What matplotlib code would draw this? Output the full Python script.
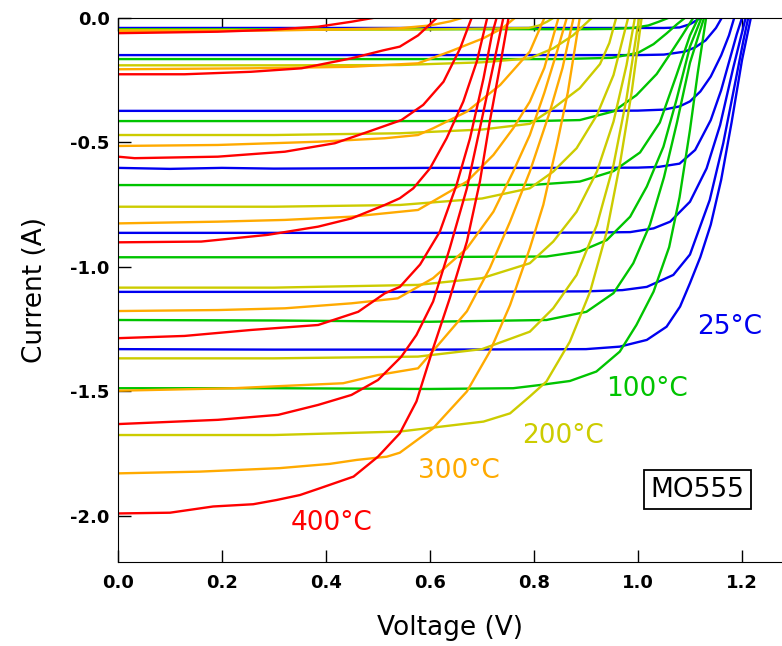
import matplotlib
matplotlib.use("Agg")
import matplotlib.pyplot as plt

# =========================
# Data: I-V curves (voltage in V, current in A)
# seven illumination levels per temperature
# =========================
V_25 = [
    [0, 0.3, 0.6, 0.9, 1.05, 1.08, 1.10, 1.12],
    [0, 0.3, 0.6, 0.9, 1.0, 1.05, 1.09, 1.11, 1.13, 1.15, 1.161],
    [0, 0.3, 0.6, 0.9, 1.0, 1.05, 1.08, 1.10, 1.12, 1.14, 1.16, 1.175, 1.185],
    [0, 0.1, 0.2, 0.3, 0.6, 0.9, 1.0, 1.04, 1.08, 1.11, 1.14, 1.16, 1.18, 1.19, 1.2],
    [0, 0.3, 0.6, 0.9, 0.985, 1.03, 1.062, 1.10, 1.132, 1.158, 1.183, 1.207],
    [0, 0.3, 0.6, 0.9, 0.97, 1.017, 1.068, 1.10, 1.138, 1.164, 1.183, 1.203, 1.212],
    [0, 0.3, 0.6, 0.9, 0.965, 1.017, 1.055, 1.081, 1.10, 1.12, 1.14, 1.16, 1.18, 1.20, 1.217],
]
I_25 = [
    [-0.040, -0.040, -0.040, -0.040, -0.040, -0.038, -0.025, 0.0],
    [-0.149, -0.149, -0.149, -0.149, -0.149, -0.147, -0.135, -0.118, -0.09, -0.04, 0.0],
    [-0.373, -0.373, -0.373, -0.373, -0.372, -0.368, -0.355, -0.335, -0.295, -0.235, -0.15, -0.07, 0.0],
    [-0.602, -0.606, -0.602, -0.605, -0.602, -0.602, -0.601, -0.598, -0.585, -0.53, -0.41, -0.29, -0.14, -0.065, 0.0],
    [-0.863, -0.863, -0.863, -0.862, -0.86, -0.845, -0.818, -0.738, -0.604, -0.43, -0.202, 0.0],
    [-1.10, -1.10, -1.10, -1.098, -1.093, -1.08, -1.032, -0.95, -0.731, -0.503, -0.302, -0.088, 0.0],
    [-1.33, -1.332, -1.332, -1.33, -1.32, -1.293, -1.24, -1.159, -1.065, -0.96, -0.83, -0.65, -0.42, -0.17, 0.0],
]

V_100 = [
    [0, 0.3, 0.6, 0.9, 0.95, 0.99, 1.02, 1.04, 1.058],
    [0, 0.3, 0.6, 0.85, 0.95, 1.0, 1.03, 1.055, 1.075, 1.09],
    [0, 0.3, 0.6, 0.8, 0.888, 0.953, 0.997, 1.036, 1.06, 1.085, 1.106],
    [0, 0.3, 0.6, 0.8, 0.888, 0.953, 1.004, 1.042, 1.074, 1.1, 1.116],
    [0, 0.3, 0.6, 0.824, 0.888, 0.94, 0.985, 1.017, 1.049, 1.074, 1.1, 1.122],
    [0, 0.3, 0.6, 0.824, 0.901, 0.953, 0.991, 1.023, 1.05, 1.075, 1.10, 1.127],
    [0, 0.3, 0.6, 0.76, 0.812, 0.869, 0.92, 0.965, 0.997, 1.03, 1.06, 1.08, 1.10, 1.115, 1.131],
]
I_100 = [
    [-0.045, -0.045, -0.045, -0.045, -0.044, -0.04, -0.03, -0.015, 0.0],
    [-0.165, -0.165, -0.165, -0.165, -0.16, -0.14, -0.105, -0.062, -0.025, 0.0],
    [-0.414, -0.414, -0.414, -0.414, -0.41, -0.375, -0.31, -0.225, -0.15, -0.07, 0.0],
    [-0.671, -0.671, -0.671, -0.67, -0.657, -0.615, -0.54, -0.42, -0.23, -0.07, 0.0],
    [-0.961, -0.961, -0.96, -0.958, -0.938, -0.892, -0.798, -0.677, -0.517, -0.329, -0.115, 0.0],
    [-1.213, -1.215, -1.22, -1.213, -1.18, -1.105, -0.985, -0.83, -0.64, -0.42, -0.18, 0.0],
    [-1.487, -1.487, -1.49, -1.487, -1.474, -1.458, -1.42, -1.34, -1.233, -1.099, -0.92, -0.72, -0.45, -0.22, 0.0],
]

V_200 = [
    [0, 0.3, 0.6, 0.79, 0.81, 0.825, 0.837],
    [0, 0.3, 0.542, 0.7, 0.792, 0.837, 0.875, 0.911],
    [0, 0.3, 0.542, 0.7, 0.792, 0.837, 0.888, 0.927, 0.945, 0.958],
    [0, 0.3, 0.542, 0.7, 0.792, 0.837, 0.882, 0.921, 0.953, 0.981],
    [0, 0.3, 0.577, 0.7, 0.792, 0.837, 0.882, 0.921, 0.953, 0.978, 0.994],
    [0, 0.3, 0.577, 0.7, 0.792, 0.837, 0.882, 0.921, 0.953, 0.978, 1.002],
    [0, 0.3, 0.542, 0.703, 0.754, 0.792, 0.824, 0.869, 0.908, 0.94, 0.965, 0.988, 1.007],
]
I_200 = [
    [-0.048, -0.048, -0.046, -0.04, -0.03, -0.015, 0.0],
    [-0.19, -0.19, -0.189, -0.178, -0.162, -0.122, -0.07, 0.0],
    [-0.47, -0.47, -0.463, -0.448, -0.425, -0.363, -0.282, -0.185, -0.1, 0.0],
    [-0.758, -0.758, -0.751, -0.725, -0.684, -0.617, -0.523, -0.39, -0.229, 0.0],
    [-1.083, -1.083, -1.072, -1.045, -0.985, -0.898, -0.778, -0.617, -0.416, -0.189, 0.0],
    [-1.367, -1.367, -1.36, -1.33, -1.26, -1.166, -1.032, -0.831, -0.59, -0.323, 0.0],
    [-1.675, -1.675, -1.661, -1.621, -1.588, -1.52, -1.46, -1.3, -1.099, -0.858, -0.59, -0.296, 0.0],
]

V_300 = [
    [0, 0.3, 0.542, 0.6, 0.64, 0.661],
    [0, 0.256, 0.449, 0.577, 0.638, 0.703, 0.74, 0.763],
    [0, 0.192, 0.385, 0.513, 0.577, 0.606, 0.671, 0.735, 0.792, 0.82],
    [0, 0.192, 0.321, 0.449, 0.577, 0.671, 0.722, 0.76, 0.792, 0.82, 0.847],
    [0, 0.192, 0.321, 0.449, 0.538, 0.606, 0.671, 0.722, 0.76, 0.792, 0.82, 0.845, 0.863],
    [0, 0.222, 0.433, 0.5, 0.577, 0.606, 0.671, 0.715, 0.754, 0.792, 0.83, 0.855, 0.876],
    [0, 0.157, 0.311, 0.407, 0.459, 0.517, 0.542, 0.606, 0.671, 0.715, 0.754, 0.792, 0.818, 0.845, 0.865, 0.888],
]
I_300 = [
    [-0.052, -0.05, -0.041, -0.03, -0.013, 0.0],
    [-0.206, -0.202, -0.196, -0.182, -0.135, -0.081, -0.04, 0.0],
    [-0.514, -0.51, -0.497, -0.483, -0.47, -0.443, -0.376, -0.269, -0.135, 0.0],
    [-0.825, -0.818, -0.811, -0.798, -0.771, -0.657, -0.55, -0.443, -0.336, -0.2, 0.0],
    [-1.177, -1.173, -1.166, -1.146, -1.126, -1.045, -0.925, -0.778, -0.617, -0.47, -0.3, -0.13, 0.0],
    [-1.497, -1.487, -1.467, -1.434, -1.407, -1.337, -1.178, -1.005, -0.818, -0.617, -0.38, -0.2, 0.0],
    [-1.829, -1.822, -1.808, -1.791, -1.775, -1.762, -1.746, -1.648, -1.5, -1.34, -1.153, -0.925, -0.75, -0.5, -0.3, 0.0],
]

V_400 = [
    [0, 0.192, 0.288, 0.385, 0.449, 0.49],
    [0, 0.128, 0.256, 0.353, 0.449, 0.51, 0.542, 0.577, 0.613],
    [0, 0.032, 0.192, 0.321, 0.417, 0.481, 0.545, 0.587, 0.626, 0.658, 0.68],
    [0, 0.16, 0.288, 0.385, 0.449, 0.513, 0.542, 0.568, 0.6, 0.632, 0.664, 0.69, 0.71],
    [0, 0.128, 0.256, 0.385, 0.462, 0.513, 0.542, 0.581, 0.619, 0.651, 0.677, 0.703, 0.719, 0.728],
    [0, 0.192, 0.308, 0.385, 0.449, 0.5, 0.545, 0.574, 0.606, 0.638, 0.671, 0.696, 0.722, 0.741],
    [0, 0.1, 0.183, 0.26, 0.305, 0.35, 0.388, 0.453, 0.5, 0.542, 0.574, 0.606, 0.638, 0.671, 0.696, 0.715, 0.735, 0.751],
]
I_400 = [
    [-0.061, -0.055, -0.048, -0.035, -0.015, 0.0],
    [-0.226, -0.226, -0.216, -0.202, -0.162, -0.13, -0.115, -0.07, 0.0],
    [-0.557, -0.563, -0.557, -0.537, -0.503, -0.457, -0.41, -0.349, -0.256, -0.122, 0.0],
    [-0.901, -0.898, -0.871, -0.838, -0.805, -0.751, -0.724, -0.684, -0.604, -0.483, -0.336, -0.175, 0.0],
    [-1.286, -1.277, -1.253, -1.233, -1.18, -1.106, -1.08, -0.99, -0.858, -0.671, -0.483, -0.242, -0.068, 0.0],
    [-1.631, -1.614, -1.594, -1.554, -1.514, -1.454, -1.36, -1.273, -1.139, -0.925, -0.684, -0.443, -0.189, 0.0],
    [-1.99, -1.987, -1.962, -1.953, -1.936, -1.916, -1.889, -1.842, -1.762, -1.668, -1.54, -1.327, -1.126, -0.898, -0.657, -0.416, -0.189, 0.0],
]

TEMP_LABELS = ["25°C", "100°C", "200°C", "300°C", "400°C"]
COLORS = ["#0000F0", "#00C400", "#CCCC00", "#FFAA00", "#FF0000"]
# label anchor (V, I) for each temperature tag
LABEL_POS = [(1.177, -1.241), (1.017, -1.49), (0.856, -1.679), (0.656, -1.819), (0.41, -2.028)]

SERIES_V = [V_25, V_100, V_200, V_300, V_400]
SERIES_I = [I_25, I_100, I_200, I_300, I_400]

# =========================
# Plot
# =========================
fig = plt.figure(figsize=(7.82, 6.46), dpi=100)
ax = fig.add_axes([118 / 782, 1 - 562 / 646, 1 - 118 / 782, (562 - 18) / 646])

for vs, cs, color in zip(SERIES_V, SERIES_I, COLORS):
    for v, i in zip(vs, cs):
        ax.plot(v, i, color=color, lw=1.7, solid_joinstyle="round")

for label, (x, y), color in zip(TEMP_LABELS, LABEL_POS, COLORS):
    ax.text(x, y, label, color=color, fontsize=19, ha="center", va="center")

ax.text(1.115, -1.894, "MO555", fontsize=19, ha="center", va="center",
        bbox=dict(boxstyle="square,pad=0.25", fc="white", ec="black", lw=1.3))

ax.set_xlim(0, 1.277)
ax.set_ylim(-2.185, 0)
ax.set_xticks([0.0, 0.2, 0.4, 0.6, 0.8, 1.0, 1.2])
ax.set_yticks([0.0, -0.5, -1.0, -1.5, -2.0])
ax.xaxis.set_major_formatter(matplotlib.ticker.FormatStrFormatter("%.1f"))
ax.yaxis.set_major_formatter(matplotlib.ticker.FormatStrFormatter("%.1f"))
ax.tick_params(axis="x", direction="in", length=9, width=1, top=True, pad=9,
               labelsize=13)
ax.tick_params(axis="y", direction="in", length=9, width=1, pad=6, labelsize=13)
for lab in ax.get_xticklabels() + ax.get_yticklabels():
    lab.set_fontweight("bold")
ax.spines["right"].set_visible(False)

ax.set_xlabel("Voltage (V)", fontsize=19, labelpad=16)
ax.set_ylabel("Current (A)", fontsize=19, labelpad=16)

fig.savefig("out.png", dpi=100)
